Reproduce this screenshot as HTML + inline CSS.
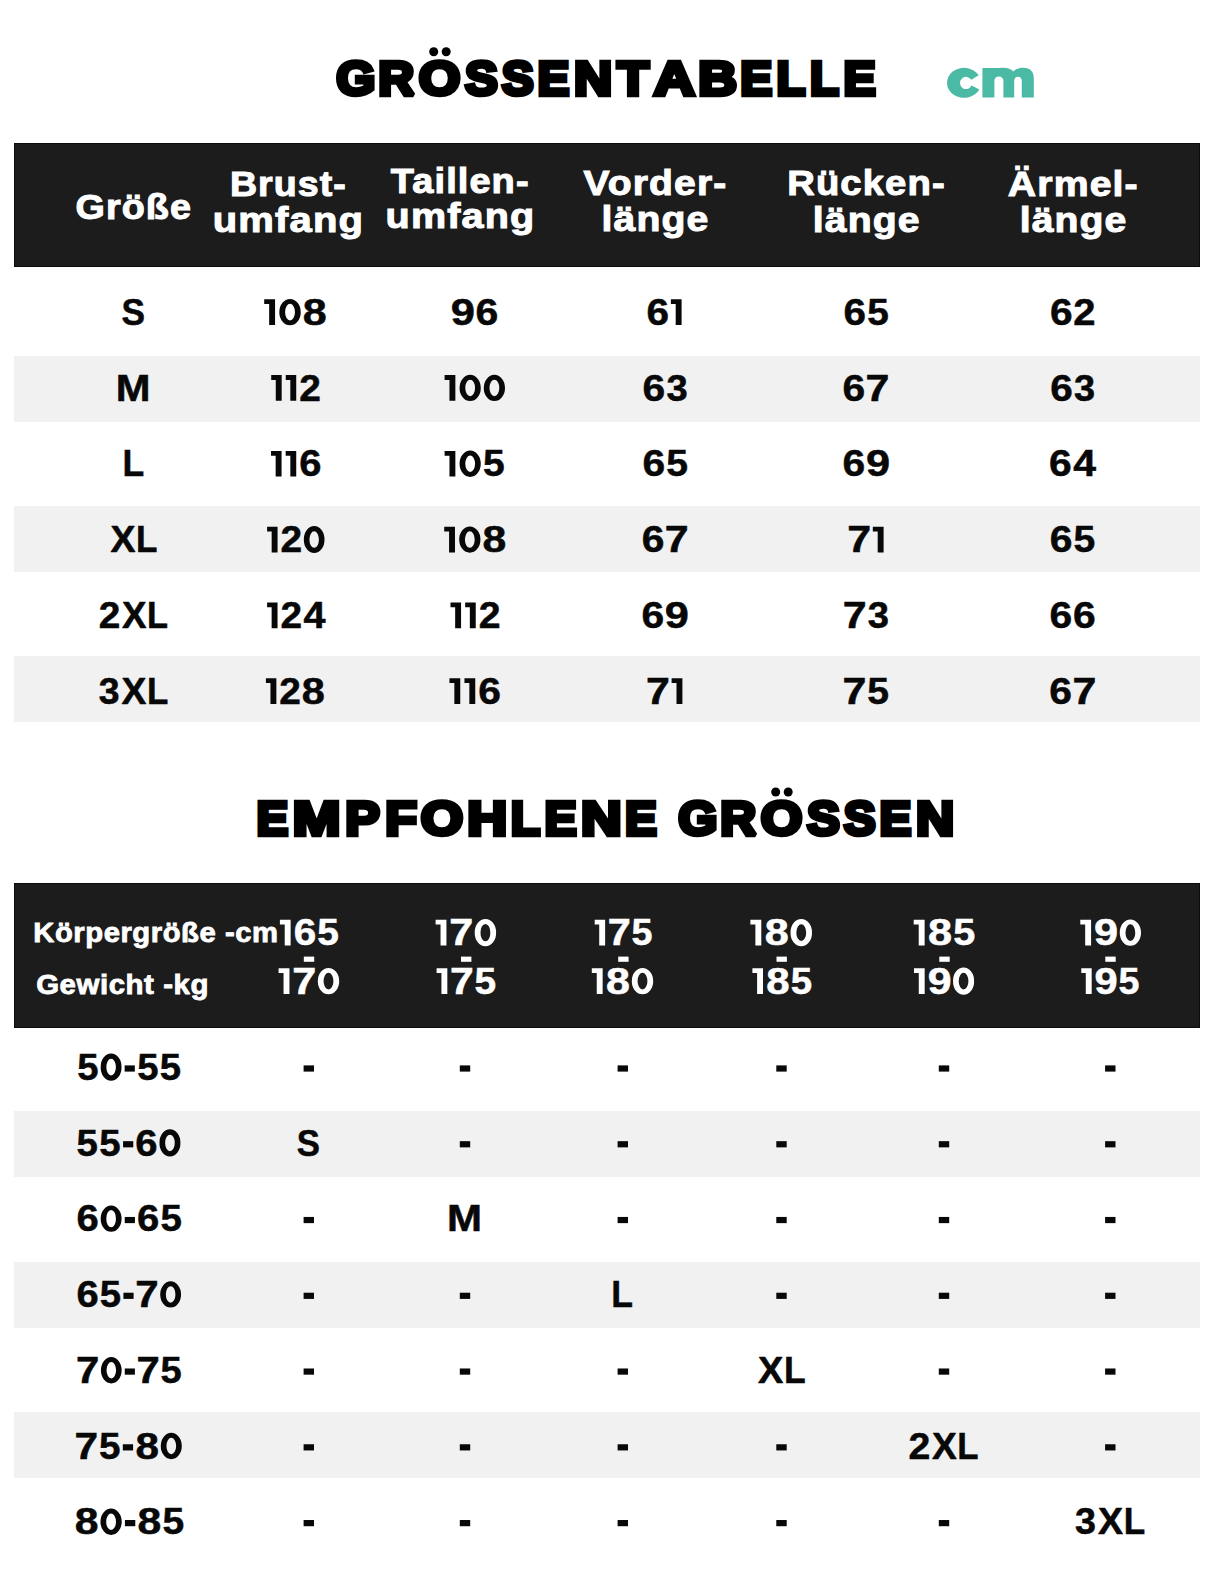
<!DOCTYPE html>
<html><head><meta charset="utf-8"><title>Größentabelle</title>
<style>html,body{margin:0;padding:0;background:#fff;}svg{display:block;}</style></head>
<body><svg width="1214" height="1578" viewBox="0 0 1214 1578" style="font-family:'Liberation Sans',sans-serif;font-weight:bold">
<rect x="14" y="143" width="1186" height="124" fill="#1c1c1c"/>
<rect x="14.5" y="143.5" width="1185" height="123" fill="none" stroke="#0b0b0b" stroke-width="1"/>
<rect x="14" y="356" width="1186" height="66" fill="#f1f1f1"/>
<rect x="14" y="506" width="1186" height="66" fill="#f1f1f1"/>
<rect x="14" y="656" width="1186" height="66" fill="#f1f1f1"/>
<rect x="14" y="883" width="1186" height="145" fill="#1c1c1c"/>
<rect x="14.5" y="883.5" width="1185" height="144" fill="none" stroke="#0b0b0b" stroke-width="1"/>
<rect x="14" y="1111" width="1186" height="66" fill="#f1f1f1"/>
<rect x="14" y="1262" width="1186" height="66" fill="#f1f1f1"/>
<rect x="14" y="1412" width="1186" height="66" fill="#f1f1f1"/>
<rect x="303.80" y="956.6" width="10.4" height="5.2" fill="#ffffff"/>
<rect x="461.00" y="956.6" width="10.4" height="5.2" fill="#ffffff"/>
<rect x="618.20" y="956.6" width="10.4" height="5.2" fill="#ffffff"/>
<rect x="776.50" y="956.6" width="10.4" height="5.2" fill="#ffffff"/>
<rect x="939.30" y="956.6" width="10.4" height="5.2" fill="#ffffff"/>
<rect x="1105.30" y="956.6" width="10.4" height="5.2" fill="#ffffff"/>
<rect x="303.60" y="1065.40" width="10.4" height="6.2" fill="#080808"/>
<rect x="459.80" y="1065.40" width="10.4" height="6.2" fill="#080808"/>
<rect x="617.60" y="1065.40" width="10.4" height="6.2" fill="#080808"/>
<rect x="776.30" y="1065.40" width="10.4" height="6.2" fill="#080808"/>
<rect x="938.80" y="1065.40" width="10.4" height="6.2" fill="#080808"/>
<rect x="1105.10" y="1065.40" width="10.4" height="6.2" fill="#080808"/>
<rect x="459.80" y="1141.17" width="10.4" height="6.2" fill="#080808"/>
<rect x="617.60" y="1141.17" width="10.4" height="6.2" fill="#080808"/>
<rect x="776.30" y="1141.17" width="10.4" height="6.2" fill="#080808"/>
<rect x="938.80" y="1141.17" width="10.4" height="6.2" fill="#080808"/>
<rect x="1105.10" y="1141.17" width="10.4" height="6.2" fill="#080808"/>
<rect x="303.60" y="1216.94" width="10.4" height="6.2" fill="#080808"/>
<rect x="617.60" y="1216.94" width="10.4" height="6.2" fill="#080808"/>
<rect x="776.30" y="1216.94" width="10.4" height="6.2" fill="#080808"/>
<rect x="938.80" y="1216.94" width="10.4" height="6.2" fill="#080808"/>
<rect x="1105.10" y="1216.94" width="10.4" height="6.2" fill="#080808"/>
<rect x="303.60" y="1292.71" width="10.4" height="6.2" fill="#080808"/>
<rect x="459.80" y="1292.71" width="10.4" height="6.2" fill="#080808"/>
<rect x="776.30" y="1292.71" width="10.4" height="6.2" fill="#080808"/>
<rect x="938.80" y="1292.71" width="10.4" height="6.2" fill="#080808"/>
<rect x="1105.10" y="1292.71" width="10.4" height="6.2" fill="#080808"/>
<rect x="303.60" y="1368.48" width="10.4" height="6.2" fill="#080808"/>
<rect x="459.80" y="1368.48" width="10.4" height="6.2" fill="#080808"/>
<rect x="617.60" y="1368.48" width="10.4" height="6.2" fill="#080808"/>
<rect x="938.80" y="1368.48" width="10.4" height="6.2" fill="#080808"/>
<rect x="1105.10" y="1368.48" width="10.4" height="6.2" fill="#080808"/>
<rect x="303.60" y="1444.25" width="10.4" height="6.2" fill="#080808"/>
<rect x="459.80" y="1444.25" width="10.4" height="6.2" fill="#080808"/>
<rect x="617.60" y="1444.25" width="10.4" height="6.2" fill="#080808"/>
<rect x="776.30" y="1444.25" width="10.4" height="6.2" fill="#080808"/>
<rect x="1105.10" y="1444.25" width="10.4" height="6.2" fill="#080808"/>
<rect x="303.60" y="1520.02" width="10.4" height="6.2" fill="#080808"/>
<rect x="459.80" y="1520.02" width="10.4" height="6.2" fill="#080808"/>
<rect x="617.60" y="1520.02" width="10.4" height="6.2" fill="#080808"/>
<rect x="776.30" y="1520.02" width="10.4" height="6.2" fill="#080808"/>
<rect x="938.80" y="1520.02" width="10.4" height="6.2" fill="#080808"/>
<circle cx="433.7" cy="51.8" r="4.5" fill="#000"/>
<circle cx="775.7" cy="792" r="4.5" fill="#000"/>
<circle cx="446.2" cy="51.8" r="4.5" fill="#000"/>
<circle cx="788.2" cy="792" r="4.5" fill="#000"/>
<path d="M978.7,75.3A17,15 0 1,0 979.3,89.4L971.6,85.6A6.1,6.1 0 1,1 971.3,79.8Z" fill="#4bbaa5"/>
<path d="M982.4,97.6V67.9H994.1C996.5,68.5 999.5,67.7 1003.5,67.7C1008.5,67.7 1012,69.5 1013.5,71.6C1015.5,69 1019,67.7 1023.5,67.7C1030,67.7 1033.8,71.5 1033.8,78V97.6H1021.8V81C1021.8,78.3 1020.3,76.8 1018,76.8C1015.7,76.8 1014.2,78.3 1014.2,81V97.6H1003.4V81C1003.4,78.1 1001.5,76.5 998.8,76.5C996.1,76.5 994.4,78.1 994.4,81V97.6Z" fill="#4bbaa5"/>
<path d="M264.20 299.30H275.07V325.00H269.17V304.10H264.20Z" fill="#080808"/>
<path fill-rule="evenodd" d="M279.30 312.15a10.72 13.15 0 1 0 21.44 0a10.72 13.15 0 1 0 -21.44 0ZM285.09 312.15a4.93 8.28 0 1 0 9.86 0a4.93 8.28 0 1 0 -9.86 0Z" fill="#080808"/>
<path d="M670.86 299.30H681.60V325.00H675.70V304.10H670.86Z" fill="#080808"/>
<path d="M271.20 375.10H281.68V400.80H275.78V379.90H271.20Z" fill="#080808"/>
<path d="M285.75 375.10H296.22V400.80H290.32V379.90H285.75Z" fill="#080808"/>
<path d="M444.60 375.10H455.36V400.80H449.46V379.90H444.60Z" fill="#080808"/>
<path fill-rule="evenodd" d="M459.55 387.95a10.61 13.15 0 1 0 21.23 0a10.61 13.15 0 1 0 -21.23 0ZM465.28 387.95a4.88 8.28 0 1 0 9.77 0a4.88 8.28 0 1 0 -9.77 0Z" fill="#080808"/>
<path fill-rule="evenodd" d="M483.77 387.95a10.61 13.15 0 1 0 21.23 0a10.61 13.15 0 1 0 -21.23 0ZM489.50 387.95a4.88 8.28 0 1 0 9.77 0a4.88 8.28 0 1 0 -9.77 0Z" fill="#080808"/>
<path d="M271.00 450.90H281.56V476.60H275.66V455.70H271.00Z" fill="#080808"/>
<path d="M285.67 450.90H296.24V476.60H290.34V455.70H285.67Z" fill="#080808"/>
<path d="M444.60 450.90H455.36V476.60H449.46V455.70H444.60Z" fill="#080808"/>
<path fill-rule="evenodd" d="M459.55 463.75a10.61 13.15 0 1 0 21.23 0a10.61 13.15 0 1 0 -21.23 0ZM465.28 463.75a4.88 8.28 0 1 0 9.77 0a4.88 8.28 0 1 0 -9.77 0Z" fill="#080808"/>
<path d="M267.10 526.70H277.57V552.40H271.67V531.50H267.10Z" fill="#080808"/>
<path fill-rule="evenodd" d="M303.85 539.55a10.33 13.15 0 1 0 20.65 0a10.33 13.15 0 1 0 -20.65 0ZM309.42 539.55a4.75 8.28 0 1 0 9.50 0a4.75 8.28 0 1 0 -9.50 0Z" fill="#080808"/>
<path d="M444.20 526.70H454.98V552.40H449.08V531.50H444.20Z" fill="#080808"/>
<path fill-rule="evenodd" d="M459.18 539.55a10.63 13.15 0 1 0 21.27 0a10.63 13.15 0 1 0 -21.27 0ZM464.92 539.55a4.89 8.28 0 1 0 9.78 0a4.89 8.28 0 1 0 -9.78 0Z" fill="#080808"/>
<path d="M872.80 526.70H883.60V552.40H877.70V531.50H872.80Z" fill="#080808"/>
<path d="M267.10 602.50H277.54V628.20H271.64V607.30H267.10Z" fill="#080808"/>
<path d="M450.50 602.50H461.06V628.20H455.16V607.30H450.50Z" fill="#080808"/>
<path d="M465.17 602.50H475.73V628.20H469.83V607.30H465.17Z" fill="#080808"/>
<path d="M265.90 678.30H276.36V704.00H270.46V683.10H265.90Z" fill="#080808"/>
<path d="M449.45 678.30H460.25V704.00H454.35V683.10H449.45Z" fill="#080808"/>
<path d="M464.45 678.30H475.25V704.00H469.35V683.10H464.45Z" fill="#080808"/>
<path d="M671.60 678.30H682.40V704.00H676.50V683.10H671.60Z" fill="#080808"/>
<path d="M279.90 919.80H290.63V945.50H284.73V924.60H279.90Z" fill="#ffffff"/>
<path d="M278.60 968.30H289.45V994.00H283.55V973.10H278.60Z" fill="#ffffff"/>
<path fill-rule="evenodd" d="M317.79 981.15a10.70 13.15 0 1 0 21.41 0a10.70 13.15 0 1 0 -21.41 0ZM323.57 981.15a4.92 8.28 0 1 0 9.85 0a4.92 8.28 0 1 0 -9.85 0Z" fill="#ffffff"/>
<path d="M435.60 919.80H446.44V945.50H440.54V924.60H435.60Z" fill="#ffffff"/>
<path fill-rule="evenodd" d="M474.73 932.65a10.69 13.15 0 1 0 21.37 0a10.69 13.15 0 1 0 -21.37 0ZM480.50 932.65a4.92 8.28 0 1 0 9.83 0a4.92 8.28 0 1 0 -9.83 0Z" fill="#ffffff"/>
<path d="M436.60 968.30H447.33V994.00H441.43V973.10H436.60Z" fill="#ffffff"/>
<path d="M594.70 919.80H605.12V945.50H599.22V924.60H594.70Z" fill="#ffffff"/>
<path d="M591.80 968.30H602.65V994.00H596.75V973.10H591.80Z" fill="#ffffff"/>
<path fill-rule="evenodd" d="M631.80 981.15a10.70 13.15 0 1 0 21.40 0a10.70 13.15 0 1 0 -21.40 0ZM637.57 981.15a4.92 8.28 0 1 0 9.85 0a4.92 8.28 0 1 0 -9.85 0Z" fill="#ffffff"/>
<path d="M750.40 919.80H761.29V945.50H755.39V924.60H750.40Z" fill="#ffffff"/>
<path fill-rule="evenodd" d="M790.53 932.65a10.74 13.15 0 1 0 21.47 0a10.74 13.15 0 1 0 -21.47 0ZM796.32 932.65a4.94 8.28 0 1 0 9.88 0a4.94 8.28 0 1 0 -9.88 0Z" fill="#ffffff"/>
<path d="M752.40 968.30H763.00V994.00H757.10V973.10H752.40Z" fill="#ffffff"/>
<path d="M913.70 919.80H924.63V945.50H918.73V924.60H913.70Z" fill="#ffffff"/>
<path d="M914.00 968.30H924.68V994.00H918.78V973.10H914.00Z" fill="#ffffff"/>
<path fill-rule="evenodd" d="M953.05 981.15a10.53 13.15 0 1 0 21.05 0a10.53 13.15 0 1 0 -21.05 0ZM958.73 981.15a4.84 8.28 0 1 0 9.69 0a4.84 8.28 0 1 0 -9.69 0Z" fill="#ffffff"/>
<path d="M1080.30 919.80H1091.08V945.50H1085.18V924.60H1080.30Z" fill="#ffffff"/>
<path fill-rule="evenodd" d="M1119.74 932.65a10.63 13.15 0 1 0 21.26 0a10.63 13.15 0 1 0 -21.26 0ZM1125.48 932.65a4.89 8.28 0 1 0 9.78 0a4.89 8.28 0 1 0 -9.78 0Z" fill="#ffffff"/>
<path d="M1081.30 968.30H1091.68V994.00H1085.78V973.10H1081.30Z" fill="#ffffff"/>
<path fill-rule="evenodd" d="M100.69 1067.15a10.42 13.15 0 1 0 20.83 0a10.42 13.15 0 1 0 -20.83 0ZM106.32 1067.15a4.79 8.28 0 1 0 9.58 0a4.79 8.28 0 1 0 -9.58 0Z" fill="#080808"/>
<rect x="124.65" y="1065.40" width="10.17" height="6.2" fill="#080808"/>
<rect x="123.06" y="1141.17" width="10.21" height="6.2" fill="#080808"/>
<path fill-rule="evenodd" d="M159.49 1142.92a10.46 13.15 0 1 0 20.91 0a10.46 13.15 0 1 0 -20.91 0ZM165.13 1142.92a4.81 8.28 0 1 0 9.62 0a4.81 8.28 0 1 0 -9.62 0Z" fill="#080808"/>
<path fill-rule="evenodd" d="M100.65 1218.69a10.47 13.15 0 1 0 20.94 0a10.47 13.15 0 1 0 -20.94 0ZM106.30 1218.69a4.82 8.28 0 1 0 9.63 0a4.82 8.28 0 1 0 -9.63 0Z" fill="#080808"/>
<rect x="124.73" y="1216.94" width="10.22" height="6.2" fill="#080808"/>
<rect x="123.43" y="1292.71" width="10.17" height="6.2" fill="#080808"/>
<path fill-rule="evenodd" d="M160.21 1294.46a10.42 13.15 0 1 0 20.84 0a10.42 13.15 0 1 0 -20.84 0ZM165.84 1294.46a4.79 8.28 0 1 0 9.58 0a4.79 8.28 0 1 0 -9.58 0Z" fill="#080808"/>
<path fill-rule="evenodd" d="M100.92 1370.23a10.37 13.15 0 1 0 20.74 0a10.37 13.15 0 1 0 -20.74 0ZM106.52 1370.23a4.77 8.28 0 1 0 9.54 0a4.77 8.28 0 1 0 -9.54 0Z" fill="#080808"/>
<rect x="124.77" y="1368.48" width="10.13" height="6.2" fill="#080808"/>
<rect x="122.82" y="1444.25" width="10.27" height="6.2" fill="#080808"/>
<path fill-rule="evenodd" d="M160.76 1446.00a10.52 13.15 0 1 0 21.04 0a10.52 13.15 0 1 0 -21.04 0ZM166.44 1446.00a4.84 8.28 0 1 0 9.68 0a4.84 8.28 0 1 0 -9.68 0Z" fill="#080808"/>
<path fill-rule="evenodd" d="M100.45 1521.77a10.63 13.15 0 1 0 21.26 0a10.63 13.15 0 1 0 -21.26 0ZM106.19 1521.77a4.89 8.28 0 1 0 9.78 0a4.89 8.28 0 1 0 -9.78 0Z" fill="#080808"/>
<rect x="124.91" y="1520.02" width="10.38" height="6.2" fill="#080808"/>
<g font-size="34.9" fill="#ffffff" stroke="#ffffff" stroke-width="1.0" stroke-miterlimit="2" letter-spacing="1"><text transform="translate(75.52 218.70)scale(1.0812 1)">Größe</text><text transform="translate(229.92 196.10)scale(1.0755 1)">Brust-</text><text transform="translate(212.79 232.30)scale(1.1459 1)">umfang</text><text transform="translate(390.87 192.80)scale(1.0881 1)">Taillen-</text><text transform="translate(385.62 228.30)scale(1.1341 1)">umfang</text><text transform="translate(583.56 194.80)scale(1.1191 1)">Vorder-</text><text transform="translate(601.56 231.30)scale(1.1222 1)">länge</text><text transform="translate(787.18 195.30)scale(1.0965 1)">Rücken-</text><text transform="translate(812.76 231.90)scale(1.1222 1)">länge</text><text transform="translate(1007.82 195.70)scale(1.1240 1)">Ärmel-</text><text transform="translate(1019.66 231.90)scale(1.1222 1)">länge</text></g>
<g font-size="27.1" fill="#ffffff" stroke="#ffffff" stroke-width="0.8" stroke-miterlimit="2" letter-spacing="0.5"><text transform="translate(33.28 941.60)scale(1.0790 1)">Körpergröße -cm</text><text transform="translate(36.19 994.10)scale(1.0863 1)">Gewicht -kg</text></g>
<g font-size="48.1" fill="#000" stroke="#000" stroke-width="4.5" stroke-miterlimit="2"><text transform="translate(336.16 95.05)scale(1.0459 1)">G</text><text transform="translate(378.26 95.05)scale(1.0360 1)">R</text><text transform="translate(418.68 95.05)scale(1.1132 1)">O</text><text transform="translate(465.08 95.05)scale(1.0222 1)">S</text><text transform="translate(501.84 95.05)scale(0.9926 1)">S</text><text transform="translate(537.41 95.05)scale(0.9905 1)">E</text><text transform="translate(574.00 95.05)scale(1.0992 1)">N</text><text transform="translate(617.28 95.05)scale(1.0758 1)">T</text><text transform="translate(653.86 95.05)scale(1.1819 1)">A</text><text transform="translate(698.19 95.05)scale(1.1141 1)">B</text><text transform="translate(740.21 95.05)scale(0.9937 1)">E</text><text transform="translate(776.42 95.05)scale(0.9812 1)">L</text><text transform="translate(810.02 95.05)scale(0.9812 1)">L</text><text transform="translate(843.59 95.05)scale(1.0063 1)">E</text><text transform="translate(256.51 835.45)scale(0.9873 1)">E</text><text transform="translate(292.71 835.45)scale(1.1895 1)">M</text><text transform="translate(345.22 835.45)scale(1.0772 1)">P</text><text transform="translate(385.32 835.45)scale(1.0793 1)">F</text><text transform="translate(420.68 835.45)scale(1.1342 1)">O</text><text transform="translate(467.15 835.45)scale(1.1481 1)">H</text><text transform="translate(510.80 835.45)scale(1.0017 1)">L</text><text transform="translate(544.40 835.45)scale(1.0032 1)">E</text><text transform="translate(581.03 835.45)scale(1.1695 1)">N</text><text transform="translate(625.11 835.45)scale(0.9905 1)">E</text><text transform="translate(678.16 835.45)scale(1.0459 1)">G</text><text transform="translate(720.26 835.45)scale(1.0360 1)">R</text><text transform="translate(760.68 835.45)scale(1.1132 1)">O</text><text transform="translate(807.08 835.45)scale(1.0222 1)">S</text><text transform="translate(843.84 835.45)scale(0.9926 1)">S</text><text transform="translate(879.41 835.45)scale(0.9905 1)">E</text><text transform="translate(916.00 835.45)scale(1.0992 1)">N</text></g>
<g font-size="36.3" fill="#080808" stroke="#080808" stroke-width="0.5" stroke-miterlimit="2"><text transform="translate(121.57 324.75)scale(0.9708 1)">S</text><text transform="translate(302.87 324.75)scale(1.1861 1)">8</text><text transform="translate(450.80 324.75)scale(1.1998 1)">9</text><text transform="translate(475.48 324.75)scale(1.1283 1)">6</text><text transform="translate(646.38 324.75)scale(1.1167 1)">6</text><text transform="translate(843.59 324.75)scale(1.1130 1)">6</text><text transform="translate(867.18 324.75)scale(1.0675 1)">5</text><text transform="translate(1049.88 324.75)scale(1.1207 1)">6</text><text transform="translate(1073.34 324.75)scale(1.1030 1)">2</text><text transform="translate(115.81 400.55)scale(1.1495 1)">M</text><text transform="translate(299.23 400.55)scale(1.0723 1)">2</text><text transform="translate(642.38 400.55)scale(1.1233 1)">6</text><text transform="translate(666.47 400.55)scale(1.0507 1)">3</text><text transform="translate(842.48 400.55)scale(1.1233 1)">6</text><text transform="translate(865.62 400.55)scale(1.1831 1)">7</text><text transform="translate(1050.18 400.55)scale(1.1155 1)">6</text><text transform="translate(1074.12 400.55)scale(1.0434 1)">3</text><text transform="translate(122.50 476.35)scale(0.9789 1)">L</text><text transform="translate(299.25 476.35)scale(1.0988 1)">6</text><text transform="translate(482.96 476.35)scale(1.0737 1)">5</text><text transform="translate(642.38 476.35)scale(1.1233 1)">6</text><text transform="translate(666.19 476.35)scale(1.0773 1)">5</text><text transform="translate(842.48 476.35)scale(1.1233 1)">6</text><text transform="translate(865.91 476.35)scale(1.1944 1)">9</text><text transform="translate(1048.88 476.35)scale(1.1233 1)">6</text><text transform="translate(1073.22 476.35)scale(1.1300 1)">4</text><text transform="translate(110.50 552.15)scale(1.0324 1)">X</text><text transform="translate(136.06 552.15)scale(0.9664 1)">L</text><text transform="translate(280.57 552.15)scale(1.0719 1)">2</text><text transform="translate(482.55 552.15)scale(1.1764 1)">8</text><text transform="translate(641.63 552.15)scale(1.1233 1)">6</text><text transform="translate(664.77 552.15)scale(1.1831 1)">7</text><text transform="translate(847.32 552.15)scale(1.1831 1)">7</text><text transform="translate(1049.73 552.15)scale(1.1233 1)">6</text><text transform="translate(1073.54 552.15)scale(1.0773 1)">5</text><text transform="translate(98.83 627.95)scale(1.0690 1)">2</text><text transform="translate(122.04 627.95)scale(1.0113 1)">X</text><text transform="translate(147.08 627.95)scale(0.9466 1)">L</text><text transform="translate(280.54 627.95)scale(1.0690 1)">2</text><text transform="translate(303.47 627.95)scale(1.0926 1)">4</text><text transform="translate(478.76 627.95)scale(1.0812 1)">2</text><text transform="translate(641.38 627.95)scale(1.1233 1)">6</text><text transform="translate(664.81 627.95)scale(1.1944 1)">9</text><text transform="translate(842.87 627.95)scale(1.1831 1)">7</text><text transform="translate(867.82 627.95)scale(1.0507 1)">3</text><text transform="translate(1049.58 627.95)scale(1.1233 1)">6</text><text transform="translate(1073.08 627.95)scale(1.1233 1)">6</text><text transform="translate(98.78 703.75)scale(1.0310 1)">3</text><text transform="translate(121.57 703.75)scale(1.0262 1)">X</text><text transform="translate(146.99 703.75)scale(0.9606 1)">L</text><text transform="translate(279.35 703.75)scale(1.0704 1)">2</text><text transform="translate(301.74 703.75)scale(1.1409 1)">8</text><text transform="translate(478.33 703.75)scale(1.1233 1)">6</text><text transform="translate(646.12 703.75)scale(1.1831 1)">7</text><text transform="translate(842.62 703.75)scale(1.1831 1)">7</text><text transform="translate(867.29 703.75)scale(1.0773 1)">5</text><text transform="translate(1049.33 703.75)scale(1.1233 1)">6</text><text transform="translate(1072.47 703.75)scale(1.1831 1)">7</text><text transform="translate(77.21 1079.75)scale(1.0537 1)">5</text><text transform="translate(137.16 1079.75)scale(1.0537 1)">5</text><text transform="translate(159.85 1079.75)scale(1.0537 1)">5</text><text transform="translate(76.51 1155.52)scale(1.0578 1)">5</text><text transform="translate(99.29 1155.52)scale(1.0578 1)">5</text><text transform="translate(135.31 1155.52)scale(1.1030 1)">6</text><text transform="translate(296.78 1155.52)scale(0.9573 1)">S</text><text transform="translate(76.45 1231.29)scale(1.1041 1)">6</text><text transform="translate(136.99 1231.29)scale(1.1041 1)">6</text><text transform="translate(160.40 1231.29)scale(1.0589 1)">5</text><text transform="translate(446.90 1231.29)scale(1.1573 1)">M</text><text transform="translate(76.45 1307.06)scale(1.0989 1)">6</text><text transform="translate(99.75 1307.06)scale(1.0539 1)">5</text><text transform="translate(135.29 1307.06)scale(1.1574 1)">7</text><text transform="translate(611.30 1307.06)scale(0.9789 1)">L</text><text transform="translate(76.11 1382.83)scale(1.1519 1)">7</text><text transform="translate(136.57 1382.83)scale(1.1519 1)">7</text><text transform="translate(160.60 1382.83)scale(1.0490 1)">5</text><text transform="translate(758.00 1382.83)scale(1.0458 1)">X</text><text transform="translate(783.90 1382.83)scale(0.9789 1)">L</text><text transform="translate(74.54 1458.60)scale(1.1687 1)">7</text><text transform="translate(98.91 1458.60)scale(1.0643 1)">5</text><text transform="translate(135.39 1458.60)scale(1.1641 1)">8</text><text transform="translate(908.52 1458.60)scale(1.0817 1)">2</text><text transform="translate(932.01 1458.60)scale(1.0233 1)">X</text><text transform="translate(957.35 1458.60)scale(0.9578 1)">L</text><text transform="translate(74.82 1534.37)scale(1.1762 1)">8</text><text transform="translate(137.60 1534.37)scale(1.1762 1)">8</text><text transform="translate(162.43 1534.37)scale(1.0753 1)">5</text><text transform="translate(1075.08 1534.37)scale(1.0386 1)">3</text><text transform="translate(1098.04 1534.37)scale(1.0338 1)">X</text><text transform="translate(1123.64 1534.37)scale(0.9677 1)">L</text></g>
<g font-size="36.3" fill="#ffffff" stroke="#ffffff" stroke-width="0.5" stroke-miterlimit="2"><text transform="translate(293.68 945.25)scale(1.1156 1)">6</text><text transform="translate(317.34 945.25)scale(1.0700 1)">5</text><text transform="translate(292.19 993.75)scale(1.1890 1)">7</text><text transform="translate(449.17 945.25)scale(1.1870 1)">7</text><text transform="translate(450.03 993.75)scale(1.1751 1)">7</text><text transform="translate(474.53 993.75)scale(1.0701 1)">5</text><text transform="translate(607.74 945.25)scale(1.1411 1)">7</text><text transform="translate(631.54 945.25)scale(1.0391 1)">5</text><text transform="translate(605.99 993.75)scale(1.1842 1)">8</text><text transform="translate(764.63 945.25)scale(1.1880 1)">8</text><text transform="translate(766.26 993.75)scale(1.1568 1)">8</text><text transform="translate(790.68 993.75)scale(1.0576 1)">5</text><text transform="translate(927.98 945.25)scale(1.1921 1)">8</text><text transform="translate(953.15 945.25)scale(1.0899 1)">5</text><text transform="translate(927.65 993.75)scale(1.1807 1)">9</text><text transform="translate(1094.08 945.25)scale(1.1925 1)">9</text><text transform="translate(1094.57 993.75)scale(1.1484 1)">9</text><text transform="translate(1118.50 993.75)scale(1.0358 1)">5</text></g>
</svg></body></html>
